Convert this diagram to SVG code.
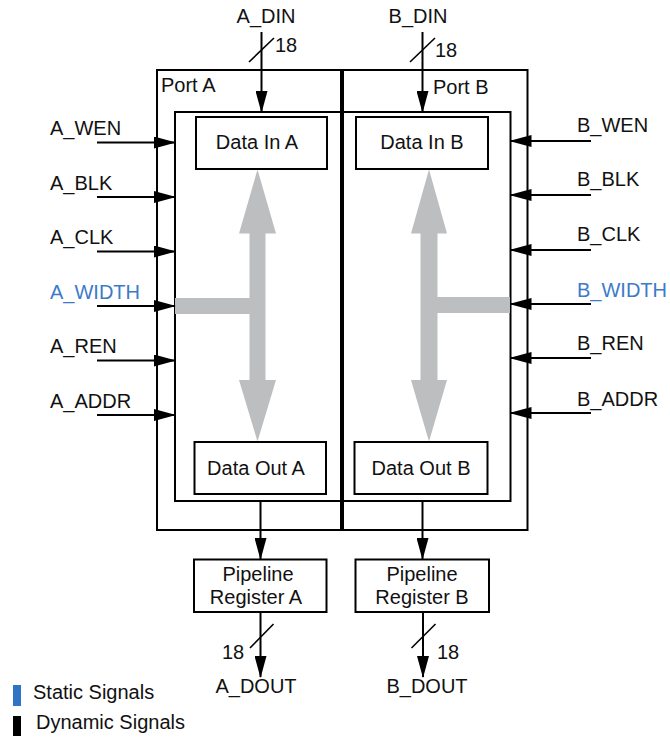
<svg xmlns="http://www.w3.org/2000/svg" width="670" height="740" viewBox="0 0 670 740">
<style>
text{font-family:"Liberation Sans",Arial,sans-serif;font-size:20px;fill:#111}
.box{fill:#fff;stroke:#000;stroke-width:2}
.frame{fill:none;stroke:#000;stroke-width:2}
.c{text-anchor:middle}
.wire{stroke:#000;stroke-width:2;fill:none;marker-end:url(#ah)}
.slash{stroke:#000;stroke-width:1.6}
.gray{fill:#bdbec0}
.blue{fill:#3b7bc8}
</style>
<defs>
<marker id="ah" markerUnits="userSpaceOnUse" markerWidth="22" markerHeight="12" refX="21" refY="6" orient="auto">
<path d="M0,0 L22,6 L0,12 z" fill="#000"/>
</marker>
</defs>
<rect width="670" height="740" fill="#fff"/>
<g id="port-frame">
<rect class="frame" x="157" y="70" width="370.5" height="460"/>
<line x1="342" y1="69" x2="342" y2="531" stroke="#000" stroke-width="4"/>
<text x="161" y="92">Port A</text>
<text x="433" y="94">Port B</text>
</g>
<g id="inner-ram">
<rect class="frame" x="175" y="112" width="335.5" height="389"/>
</g>
<g id="internal-paths">
<polygon class="gray" points="257.5,169.5 276,233.5 265.5,233.5 265.5,380 276,380 257.5,441.5 239,380 249.5,380 249.5,314 175,314 175,298 249.5,298 249.5,233.5 239,233.5"/>
<polygon class="gray" points="429,169.5 447,233.5 437.5,233.5 437.5,297 510,297 510,313 437.5,313 437.5,380 447,380 429,441.5 411,380 420.5,380 420.5,233.5 411,233.5"/>
</g>
<g id="data-in-a"><rect class="box" x="196" y="117" width="131" height="52"/><text class="c" x="257" y="149">Data In A</text></g>
<g id="data-in-b"><rect class="box" x="356" y="117" width="132" height="52"/><text class="c" x="422" y="149">Data In B</text></g>
<g id="data-out-a"><rect class="box" x="194.5" y="442" width="131.5" height="52"/><text class="c" x="256" y="475">Data Out A</text></g>
<g id="data-out-b"><rect class="box" x="354.5" y="442" width="133" height="52"/><text class="c" x="421" y="475">Data Out B</text></g>
<g id="pipeline-a"><rect class="box" x="194" y="559.5" width="132.5" height="52.5"/><text class="c" x="258" y="581">Pipeline</text><text class="c" x="256" y="604">Register A</text></g>
<g id="pipeline-b"><rect class="box" x="355.5" y="559.5" width="133.5" height="52.5"/><text class="c" x="422" y="581">Pipeline</text><text class="c" x="422" y="604">Register B</text></g>
<g id="connectors">
<line class="wire" x1="261.5" y1="32" x2="261.5" y2="112"/>
<line class="slash" x1="249" y1="62" x2="274" y2="38"/>
<line class="wire" x1="422.5" y1="32" x2="422.5" y2="112"/>
<line class="slash" x1="410" y1="62" x2="435" y2="38"/>
<line class="wire" x1="97" y1="142.5" x2="175" y2="142.5"/>
<line class="wire" x1="97" y1="197" x2="175" y2="197"/>
<line class="wire" x1="97" y1="251.5" x2="175" y2="251.5"/>
<line class="wire" x1="97" y1="306" x2="175" y2="306"/>
<line class="wire" x1="97" y1="360.5" x2="175" y2="360.5"/>
<line class="wire" x1="97" y1="415" x2="175" y2="415"/>
<line class="wire" x1="591" y1="141" x2="510.5" y2="141"/>
<line class="wire" x1="591" y1="195" x2="510.5" y2="195"/>
<line class="wire" x1="591" y1="250" x2="510.5" y2="250"/>
<line class="wire" x1="591" y1="304" x2="510.5" y2="304"/>
<line class="wire" x1="591" y1="358" x2="510.5" y2="358"/>
<line class="wire" x1="591" y1="413" x2="510.5" y2="413"/>
<line class="wire" x1="260.5" y1="501" x2="260.5" y2="559"/>
<line class="wire" x1="422.5" y1="501" x2="422.5" y2="559"/>
<line class="wire" x1="260.5" y1="612" x2="260.5" y2="677"/>
<line class="slash" x1="250" y1="648" x2="273.5" y2="624"/>
<line class="wire" x1="423" y1="612" x2="423" y2="677"/>
<line class="slash" x1="411.5" y1="648" x2="435.5" y2="624"/>
</g>
<g id="signal-labels">
<text class="c" x="266" y="23">A_DIN</text>
<text x="275" y="52">18</text>
<text class="c" x="418" y="23">B_DIN</text>
<text x="435" y="57">18</text>
<text x="50" y="135">A_WEN</text>
<text x="50" y="190">A_BLK</text>
<text x="50" y="244">A_CLK</text>
<text x="50" y="299" class="blue">A_WIDTH</text>
<text x="50" y="353">A_REN</text>
<text x="50" y="408">A_ADDR</text>
<text x="577" y="132">B_WEN</text>
<text x="577" y="186">B_BLK</text>
<text x="577" y="241">B_CLK</text>
<text x="577" y="297" class="blue">B_WIDTH</text>
<text x="577" y="350">B_REN</text>
<text x="577" y="406">B_ADDR</text>
<text x="222" y="659">18</text>
<text class="c" x="256" y="693">A_DOUT</text>
<text x="437" y="659">18</text>
<text class="c" x="427" y="693">B_DOUT</text>
</g>
<g id="legend">
<rect x="13" y="685" width="8" height="21" fill="#2f74c5"/>
<text x="33" y="699">Static Signals</text>
<rect x="13" y="716" width="8" height="20" fill="#000"/>
<text x="36" y="729">Dynamic Signals</text>
</g>
</svg>
